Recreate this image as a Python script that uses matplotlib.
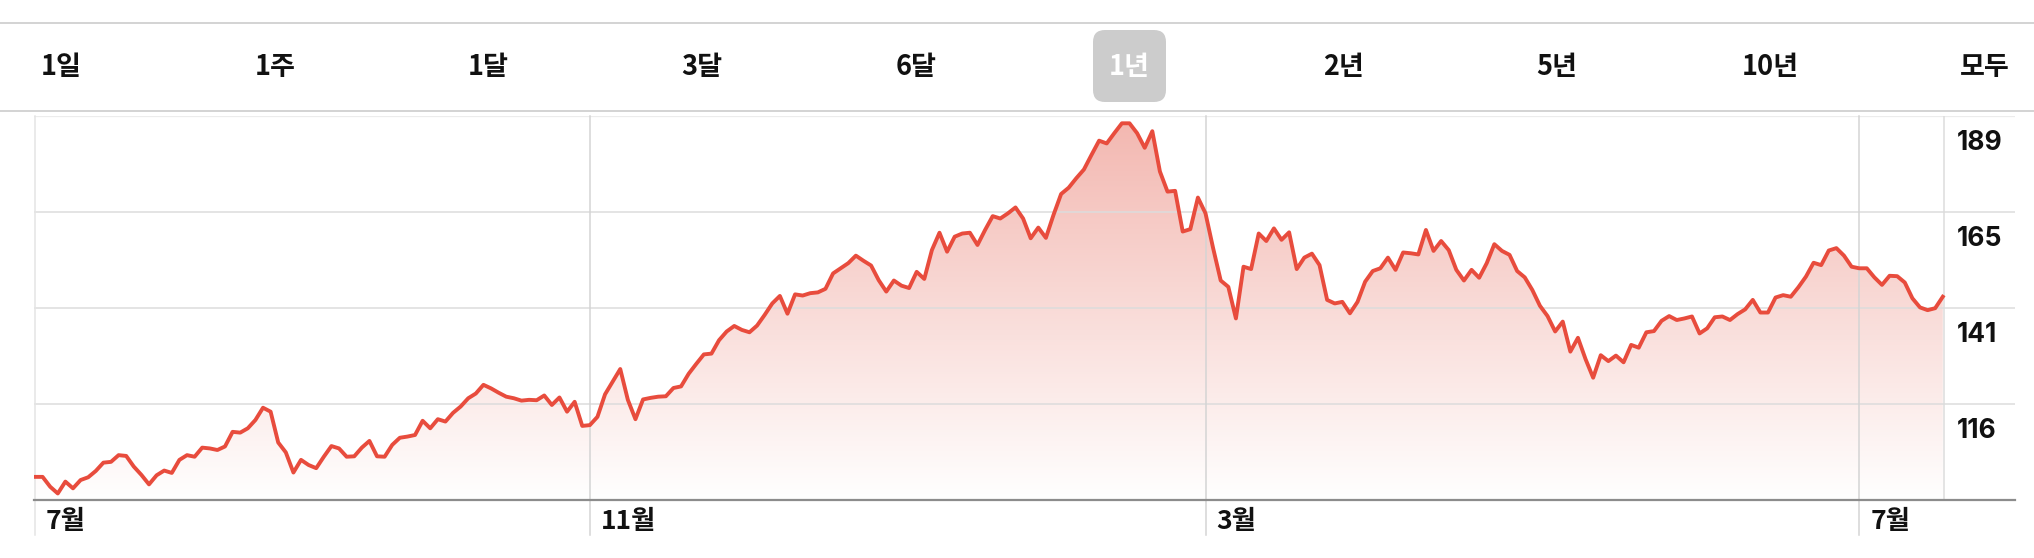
import numpy as np
import matplotlib.pyplot as plt
import matplotlib.transforms as mtransforms
from matplotlib.lines import Line2D
from matplotlib.patches import FancyBboxPatch
from matplotlib.colors import LinearSegmentedColormap

# daily closes, one year (trading-day index)
prices = [
    98.0, 98.0, 95.5, 93.8, 96.8, 95.1, 97.2, 97.9, 99.5, 101.6,
    101.8, 103.5, 103.3, 100.6, 98.5, 96.1, 98.4, 99.6, 99.0, 102.3,
    103.5, 103.1, 105.4, 105.2, 104.8, 105.7, 109.4, 109.2, 110.3, 112.4,
    115.5, 114.5, 106.7, 104.2, 99.1, 102.3, 101.0, 100.2, 103.1, 105.8,
    105.2, 103.1, 103.2, 105.4, 107.1, 103.2, 103.1, 106.1, 107.9, 108.2,
    108.6, 112.2, 110.3, 112.6, 112.0, 114.2, 115.8, 117.9, 119.1, 121.3,
    120.4, 119.3, 118.3, 117.9, 117.3, 117.5, 117.4, 118.6, 116.2, 118.1,
    114.5, 117.0, 110.9, 111.1, 113.2, 118.9, 122.1, 125.3, 117.5, 112.6,
    117.6, 118.0, 118.3, 118.4, 120.5, 120.9, 124.1, 126.6, 129.0, 129.2,
    132.6, 134.8, 136.2, 135.2, 134.6, 136.3, 139.0, 141.9, 143.8, 139.3,
    144.2, 143.9, 144.5, 144.7, 145.6, 149.5, 150.8, 152.1, 154.0, 152.7,
    151.5, 147.8, 144.9, 147.7, 146.4, 145.8, 149.9, 148.1, 155.4, 159.8,
    155.0, 158.8, 159.6, 159.8, 156.7, 160.5, 164.0, 163.4, 164.7, 166.2,
    163.4, 158.4, 161.1, 158.5, 164.3, 169.6, 171.2, 173.6, 175.8, 179.5,
    183.1, 182.4, 185.0, 187.5, 187.5, 185.0, 181.3, 185.5, 175.3, 170.2,
    170.4, 160.1, 160.7, 168.7, 164.7, 155.9, 147.7, 146.1, 138.1, 151.2,
    150.6, 159.6, 157.7, 160.9, 158.0, 159.9, 150.6, 153.5, 154.5, 151.6,
    142.8, 141.9, 142.3, 139.4, 142.3, 147.4, 150.1, 150.8, 153.5, 150.4,
    154.8, 154.6, 154.3, 160.5, 155.2, 157.7, 155.4, 150.4, 147.7, 150.4,
    148.4, 152.1, 156.9, 155.2, 154.2, 150.1, 148.5, 145.3, 141.3, 138.7,
    134.8, 137.3, 129.7, 133.2, 127.8, 123.1, 128.8, 127.3, 128.7, 127.0,
    131.4, 130.7, 134.6, 134.9, 137.5, 138.7, 137.7, 138.1, 138.6, 134.3,
    135.6, 138.4, 138.6, 137.7, 139.2, 140.4, 142.8, 139.6, 139.6, 143.4,
    144.0, 143.6, 146.0, 148.7, 152.2, 151.6, 155.3, 155.9, 154.0, 151.2,
    150.8, 150.8, 148.5, 146.6, 148.9, 148.8, 147.2, 143.2, 140.9, 140.2,
    140.7, 143.6,
]
first_month = '7월'
month_idx = [73, 154, 240]          # first trading day of the month
month_labels = ['11월', '3월', '7월']
grid_vals = [189.27, 164.97, 140.67, 116.37]
grid_labels = ['189', '165', '141', '116']
y_bottom = 92.07
ranges = ['1일', '1주', '1달', '3달', '6달', '1년', '2년', '5년', '10년', '모두']
selected = '1년'

W, H = 2034, 558
fig = plt.figure(figsize=(W / 100, H / 100), dpi=100)
fig.patch.set_facecolor('white')
kr = ['Noto Sans CJK KR', 'DejaVu Sans']

# header with range buttons
for yy in (22.5, 110.5):
    fig.add_artist(Line2D([0, 1], [1 - yy / H] * 2, color='#d0d0d0', lw=1.3))
for k, lab in enumerate(ranges):
    cx = 61 + 213.7 * k
    if lab == selected:
        fig.add_artist(FancyBboxPatch((cx - 36.5, H - 102), 73, 72,
                                      boxstyle='round,pad=0,rounding_size=12',
                                      transform=None, fc='#cccccc', ec='none'))
        fig.text(cx / W, 1 - 67 / H, lab, ha='center', va='center', color='white',
                 fontsize=19.5, fontweight='bold', family=kr)
    else:
        fig.text(cx / W, 1 - 67 / H, lab, ha='center', va='center', color='#111111',
                 fontsize=19.5, fontweight='bold', family=kr)

# chart
ax = fig.add_axes([34 / W, (H - 500.3) / H, (2015 - 34) / W, 384 / H])
x = np.arange(len(prices))
poly = ax.fill_between(x, prices, y_bottom, color='none', lw=0)
cmap = LinearSegmentedColormap.from_list('pinkfade', ['#ffffff', '#f3b8b1'])
grad = np.linspace(0, 1, 256).reshape(-1, 1)
im = ax.imshow(grad, extent=[0, len(prices) - 1, y_bottom, max(prices)], origin='lower',
               aspect='auto', cmap=cmap, zorder=1)
im.set_clip_path(poly.get_paths()[0], ax.transData)
ax.plot(x, prices, color='#e84c3d', lw=2.8, solid_joinstyle='round', zorder=3)

ax.set_xlim(-0.13, 260.5)
ax.set_ylim(y_bottom, grid_vals[0])
for s in ax.spines.values():
    s.set_visible(False)
ax.set_xticks([])
ax.set_yticks([])
ax.patch.set_alpha(0)

for v in grid_vals[1:]:
    ax.axhline(v, color='#dcdcdc', lw=1.1, zorder=2)
ax.axhline(grid_vals[0], color='#ececec', lw=1.6, zorder=2)
ax.axhline(y_bottom, color='#8c8c8c', lw=1.6, zorder=4, clip_on=False)

bt = mtransforms.blended_transform_factory(ax.transData, ax.transAxes)
ax.plot([0, 0], [1, -0.09], color='#e4e4e4', lw=1.1, transform=bt, clip_on=False)
for m in month_idx:
    ax.plot([m, m], [1, -0.09], color='#d4d4d4', lw=1.1, transform=bt, clip_on=False, zorder=2)
ax.plot([len(prices) - 0.8] * 2, [1, 0], color='#dcdcdc', lw=1.1, transform=bt, zorder=2)

# month labels under the axis
mt = mtransforms.offset_copy(bt, fig=fig, x=11, y=-21, units='dots')
for m, lab in zip([0] + month_idx, [first_month] + month_labels):
    ax.text(m, 0, lab, transform=mt, ha='left', va='center', fontsize=19,
            fontweight='bold', family=kr, color='#111111')

# price labels on the right, just below each grid line
yt = mtransforms.offset_copy(mtransforms.blended_transform_factory(ax.transAxes, ax.transData),
                             fig=fig, y=-26.5, units='dots')
for v, lab in zip(grid_vals, grid_labels):
    ax.text(0.9705, v, lab, transform=yt, ha='left', va='center', fontsize=19,
            fontweight='bold', family=['Inter', 'DejaVu Sans'], color='#111111')

fig.savefig('out.png', dpi=100)
